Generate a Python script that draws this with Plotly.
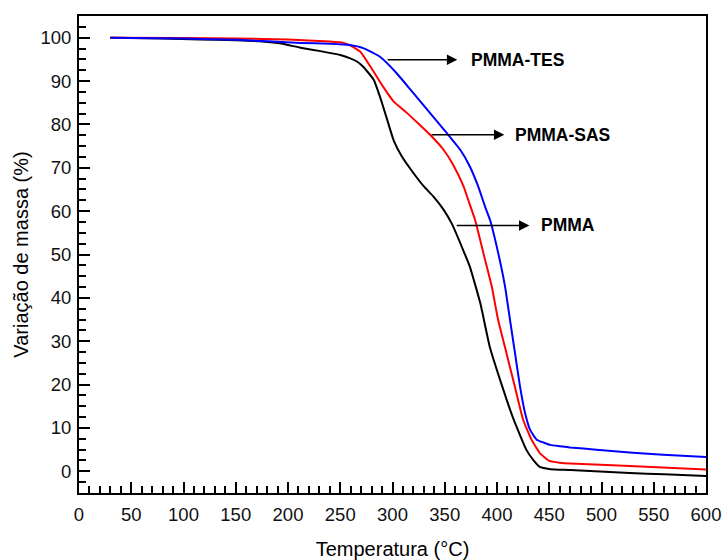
import plotly.graph_objects as go

# PMMA (black)
t_pmma = [30, 80, 116, 150, 173, 192, 212, 231, 250, 259, 266, 272, 282, 288, 294, 301, 309, 320, 330, 339, 349, 357,
          368, 374, 384, 393, 405, 416, 428, 435, 441, 451, 470, 527, 560, 600]
m_pmma = [100, 99.8, 99.6, 99.4, 99.2, 98.7, 97.7, 96.9, 96.0, 95.3, 94.5, 93.3, 90.3, 86.4, 81.8, 76.4, 72.6, 68.8,
          65.7, 63.4, 60.3, 57.0, 50.8, 47.2, 38.8, 28.8, 19.6, 11.9, 5.0, 2.5, 1.0, 0.5, 0.3, -0.4, -0.7, -1.1]

# PMMA-SAS (red)
t_sas = [30, 100, 150, 200, 240, 253, 259, 269, 279, 291, 301, 314, 326, 336, 349, 358, 368, 374, 379, 387, 395, 401,
         409, 417, 425, 433, 441, 450, 460, 470, 527, 600]
m_sas = [100, 99.9, 99.8, 99.6, 99.1, 98.8, 98.3, 96.8, 93.3, 88.7, 85.3, 82.6, 79.9, 77.6, 74.1, 70.7, 65.7, 61.5,
         58.0, 50.3, 42.6, 35.0, 27.3, 19.6, 11.9, 7.3, 4.2, 2.4, 2.0, 1.8, 1.2, 0.4]

# PMMA-TES (blue)
t_tes = [30, 100, 150, 212, 240, 259, 272, 288, 304, 320, 336, 352, 365, 374, 382, 388.5, 393.3, 401.2, 407.7, 412.4,
         417.2, 422.0, 426.8, 431.6, 438, 445, 451, 460, 470, 495, 530, 559, 600]
m_tes = [100, 99.8, 99.5, 98.8, 98.6, 98.3, 97.6, 95.6, 91.8, 87.2, 82.6, 78.0, 74.1, 70.3, 65.7, 61.1, 58.0, 50.3,
         42.6, 35.0, 27.3, 19.6, 13.5, 9.6, 7.3, 6.6, 6.1, 5.8, 5.5, 5.0, 4.3, 3.8, 3.3]

series = [("PMMA", t_pmma, m_pmma, "#000000"),
          ("PMMA-SAS", t_sas, m_sas, "#ff0000"),
          ("PMMA-TES", t_tes, m_tes, "#0000ff")]

# annotation arrows: (label, tail x, head x, y, text x)
arrows = [("PMMA-TES", 294, 362, 94.9, 373),
          ("PMMA-SAS", 336, 407, 77.6, 415),
          ("PMMA", 360, 431, 56.7, 440)]

fig = go.Figure()
for name, t, m, c in series:
    fig.add_trace(go.Scatter(x=t, y=m, mode="lines", name=name,
                             line=dict(color=c, width=2, shape="spline", smoothing=0.4)))

annos = []
for label, x0, x1, y, xt in arrows:
    annos.append(dict(x=x1, y=y, ax=x0, ay=y, xref="x", yref="y", axref="x", ayref="y",
                      text="", showarrow=True, arrowhead=2, arrowsize=1.3, arrowwidth=1.6,
                      arrowcolor="black", standoff=0, startstandoff=0))
    annos.append(dict(x=xt, y=y, xref="x", yref="y", text="<b>%s</b>" % label, showarrow=False,
                      xanchor="left", yanchor="middle",
                      font=dict(family="Liberation Sans, Arial", size=17.5, color="black")))

axis_common = dict(showline=True, linecolor="black", linewidth=2, mirror=True, showgrid=False,
                   zeroline=False, tickcolor="black", tickwidth=2, ticklen=11,
                   automargin=False,
                   tickfont=dict(family="Liberation Sans, Arial", size=18.5, color="#111111"))

fig.update_layout(
    template="none",
    width=723, height=560,
    margin=dict(l=79, r=17, t=16, b=67, pad=0),
    paper_bgcolor="white", plot_bgcolor="white",
    showlegend=False,
    annotations=annos,
    xaxis=dict(range=[0, 600], tickmode="linear", dtick=50, tick0=0, ticks="inside",
               ticklabelstandoff=4,
               minor=dict(ticks="inside", dtick=10, tick0=0, ticklen=7, tickwidth=2, tickcolor="black"),
               title=dict(text="Temperatura (°C)", standoff=20,
                          font=dict(family="Liberation Sans, Arial", size=20, color="black")),
               **axis_common),
    yaxis=dict(range=[-5, 105], tickmode="linear", dtick=10, tick0=0, ticks="inside",
               ticklabelstandoff=2,
               minor=dict(ticks="inside", dtick=2.5, tick0=0, ticklen=7, tickwidth=2, tickcolor="black"),
               title=dict(text="Variação de massa (%)", standoff=6,
                          font=dict(family="Liberation Sans, Arial", size=20, color="black")),
               **axis_common),
)

fig.write_html("out.html", config={"displayModeBar": False},
               post_script="document.body.style.margin='0';document.body.style.padding='0';")
